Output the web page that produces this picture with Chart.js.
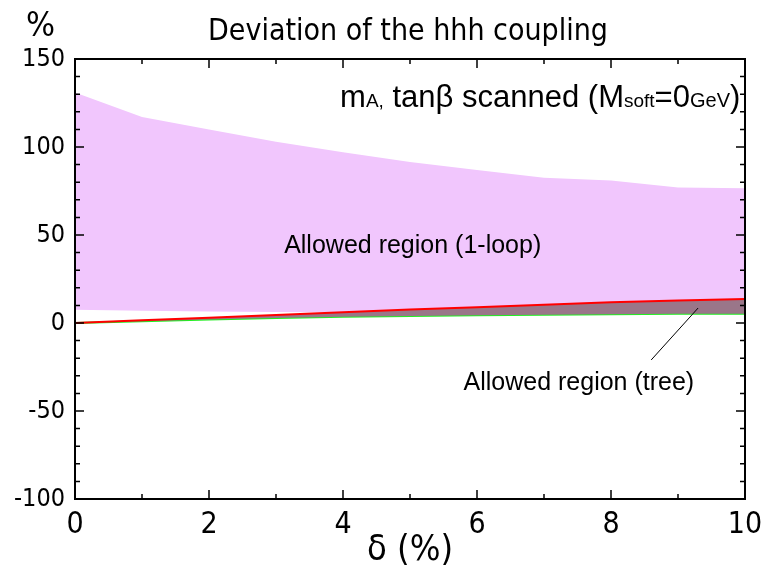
<!DOCTYPE html>
<html>
<head>
<meta charset="utf-8">
<script src="https://cdn.jsdelivr.net/npm/chart.js@4.4.1/dist/chart.umd.min.js"></script>
<style>
  html, body { margin: 0; padding: 0; background: #fff; }
  #wrap { width: 767px; height: 574px; }
</style>
</head>
<body>
<div id="wrap"><canvas id="hhhChart" width="767" height="574"></canvas></div>
<script>
// delta (%) grid
const deltaValues = [0, 1, 2, 3, 4, 5, 6, 7, 8, 9, 10];

// 1-loop allowed band (upper / lower edge, %)
const loopUpper = [131, 117, 110, 103, 97, 91.5, 87, 82.5, 81, 77, 76.5];
const loopLower = [7.5, 7, 6.6, 6.3, 6, 5.8, 5.5, 5.3, 5.1, 5, 5];

// tree-level allowed band (upper = red, lower = green)
const treeUpper = [0, 1.5, 3, 4.6, 6.1, 7.6, 9, 10.4, 11.8, 12.8, 13.6];
const treeLower = [0, 1, 2, 2.8, 3.5, 4, 4.4, 4.7, 5, 5.2, 5.3];

const xTicks = [0, 2, 4, 6, 8, 10];
const yTicks = [-100, -50, 0, 50, 100, 150];

const NARROW = "'Liberation Sans Narrow', 'DejaVu Sans Condensed', sans-serif";
const SANS = "'Liberation Sans', Arial, sans-serif";

function pts(ys) {
    return deltaValues.map((x, i) => ({ x: x, y: ys[i] }));
}

// frame, inward ticks and the text labels inside the plot
const decorations = {
    id: 'decorations',
    afterDatasetsDraw(chart) {
        const ctx = chart.ctx;
        const xs = chart.scales.x;
        const ys = chart.scales.y;
        const a = chart.chartArea;
        ctx.save();

        // leader line to the tree band
        ctx.strokeStyle = '#000';
        ctx.lineWidth = 1;
        ctx.beginPath();
        ctx.moveTo(xs.getPixelForValue(9.3), ys.getPixelForValue(8.5));
        ctx.lineTo(xs.getPixelForValue(8.6), ys.getPixelForValue(-21));
        ctx.stroke();

        // ticks on all four sides
        ctx.strokeStyle = '#000';
        ctx.lineWidth = 1.5;
        xs.ticks.forEach(t => {
            const px = xs.getPixelForValue(t.value);
            const len = xTicks.includes(t.value) ? 9 : 5;
            ctx.beginPath();
            ctx.moveTo(px, a.bottom); ctx.lineTo(px, a.bottom - len);
            ctx.moveTo(px, a.top); ctx.lineTo(px, a.top + len);
            ctx.stroke();
        });
        ys.ticks.forEach(t => {
            const py = ys.getPixelForValue(t.value);
            const len = yTicks.includes(t.value) ? 9 : 5;
            ctx.beginPath();
            ctx.moveTo(a.left, py); ctx.lineTo(a.left + len, py);
            ctx.moveTo(a.right, py); ctx.lineTo(a.right - len, py);
            ctx.stroke();
        });

        // frame
        ctx.lineWidth = 2;
        ctx.strokeRect(a.left, a.top, a.right - a.left, a.bottom - a.top);

        // text
        ctx.fillStyle = '#000';
        ctx.textBaseline = 'alphabetic';

        ctx.textAlign = 'center';
        ctx.font = '30px ' + NARROW;
        ctx.fillText('Deviation of the hhh coupling', 408, 40);

        ctx.textAlign = 'left';
        ctx.font = '34px ' + NARROW;
        ctx.fillText('%', 26, 36);

        ctx.textAlign = 'center';
        ctx.font = '25px ' + SANS;
        ctx.fillText('Allowed region (1-loop)', xs.getPixelForValue(5.04), ys.getPixelForValue(40));
        ctx.fillText('Allowed region (tree)', xs.getPixelForValue(7.52), ys.getPixelForValue(-38));

        // mA, tanβ scanned (Msoft=0GeV) with small subscripts, right aligned
        const parts = [
            ['m', 31], ['A,', 19], [' tanβ scanned (M', 31], ['soft', 19],
            ['=0', 31], ['GeV', 20], [')', 31]
        ];
        let total = 0;
        parts.forEach(p => { ctx.font = p[1] + 'px ' + SANS; total += ctx.measureText(p[0]).width; });
        let x = xs.getPixelForValue(9.93) - total;
        const base = ys.getPixelForValue(123);
        ctx.textAlign = 'left';
        parts.forEach(p => {
            ctx.font = p[1] + 'px ' + SANS;
            ctx.fillText(p[0], x, base);
            x += ctx.measureText(p[0]).width;
        });

        ctx.restore();
    }
};

const ctx = document.getElementById('hhhChart').getContext('2d');

new Chart(ctx, {
    type: 'line',
    data: {
        datasets: [
            {
                label: 'tree upper',
                data: pts(treeUpper),
                borderColor: '#ff0000',
                borderWidth: 2,
                backgroundColor: '#9a7689',
                pointRadius: 0,
                fill: '+1'
            },
            {
                label: 'tree lower',
                data: pts(treeLower),
                borderColor: '#22ee22',
                borderWidth: 2,
                pointRadius: 0,
                fill: false
            },
            {
                label: '1-loop upper',
                data: pts(loopUpper),
                borderColor: 'rgba(0,0,0,0)',
                borderWidth: 0,
                backgroundColor: '#f1c6fd',
                pointRadius: 0,
                fill: '+1'
            },
            {
                label: '1-loop lower',
                data: pts(loopLower),
                borderColor: 'rgba(0,0,0,0)',
                borderWidth: 0,
                pointRadius: 0,
                fill: false
            }
        ]
    },
    options: {
        responsive: false,
        animation: false,
        layout: { padding: { top: 59, right: 22, left: 0, bottom: 0 } },
        plugins: {
            legend: { display: false },
            tooltip: { enabled: false }
        },
        scales: {
            x: {
                type: 'linear',
                min: 0,
                max: 10,
                grid: { display: false, drawTicks: false },
                border: { display: false },
                ticks: {
                    stepSize: 1,
                    autoSkip: false,
                    maxRotation: 0,
                    padding: 8,
                    color: '#000',
                    font: { family: NARROW, size: 30 },
                    callback: v => xTicks.includes(v) ? String(v) : ''
                },
                title: {
                    display: true,
                    text: 'δ (%)',
                    color: '#000',
                    font: { family: NARROW, size: 36 },
                    padding: { top: 0, bottom: 2 }
                },
                afterFit: s => {
                    s.height = 75;
                    s.paddingLeft = 0;
                    s.paddingRight = 0;
                }
            },
            y: {
                min: -100,
                max: 150,
                grid: { display: false, drawTicks: false },
                border: { display: false },
                ticks: {
                    stepSize: 10,
                    autoSkip: false,
                    padding: 10,
                    color: '#000',
                    font: { family: NARROW, size: 25 },
                    callback: v => yTicks.includes(v) ? String(v) : ''
                },
                afterFit: s => {
                    s.width = 75;
                    s.paddingTop = 0;
                    s.paddingBottom = 0;
                }
            }
        }
    },
    plugins: [decorations]
});
</script>
</body>
</html>
